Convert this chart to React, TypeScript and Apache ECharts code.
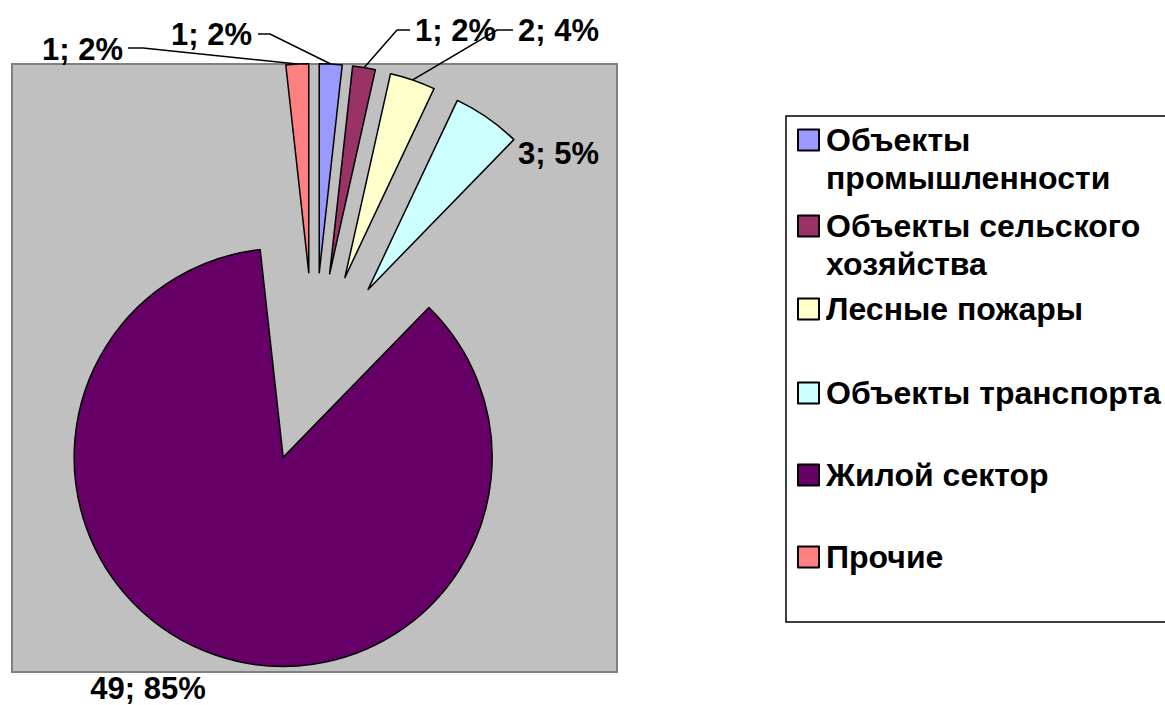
import React, { useEffect, useRef } from "react";
import * as echarts from "echarts";

const categories = [
  "Объекты промышленности",
  "Объекты сельского хозяйства",
  "Лесные пожары",
  "Объекты транспорта",
  "Жилой сектор",
  "Прочие",
];
const values = [1, 1, 2, 3, 49, 1];
const percents = [2, 2, 4, 5, 85, 2];
const colors = ["#9999FF", "#993366", "#FFFFCC", "#CCFFFF", "#660066", "#FF8080"];
const legendText: Record<string, string> = {
  "Объекты промышленности": "\nОбъекты\nпромышленности",
  "Объекты сельского хозяйства": "\nОбъекты сельского\nхозяйства",
};

// layout constants
const CENTER = [314, 367.5];
const RADIUS = 209;
const EXPLODE = 95;
const labelPos = [
  { x: 252, y: 34, align: "right", line: [[270, 34], [258, 34]] },
  { x: 415, y: 30, align: "left", line: [[397, 30], [410, 30]] },
  { x: 518, y: 30, align: "left", line: [[497, 30], [513, 30]] },
  { x: 518, y: 153, align: "left", line: null },
  { x: 148, y: 688, align: "center", line: null },
  { x: 123, y: 49, align: "right", line: [[143, 48], [128, 48]] },
];
const legendCenters = [140, 226, 309, 393, 475, 557];

export default function App() {
  const ref = useRef<HTMLDivElement>(null);
  useEffect(() => {
    if (!ref.current) return;
    const chart = echarts.init(ref.current, null, { renderer: "svg" });
    const font = "'Liberation Sans', Arial, sans-serif";
    const LH = 38;
    const legends = categories.map((name, i) => {
      const two = !!legendText[name];
      return {
        data: [name],
        left: 797,
        top: two ? legendCenters[i] - 10.5 - (1.5 * LH - 10.5) : legendCenters[i] - LH / 2,
        orient: "vertical",
        padding: 0,
        icon: "rect",
        itemWidth: 21,
        itemHeight: 21,
        selectedMode: false,
        formatter: (n: string) => legendText[n] || n,
        textStyle: {
          fontFamily: font,
          fontWeight: "bold",
          fontSize: 32,
          lineHeight: LH,
          color: "#000",
          padding: [0, 0, 0, 2],
        },
      };
    });
    const baseSeries = {
      type: "pie",
      center: CENTER,
      radius: RADIUS,
      startAngle: 90,
      clockwise: true,
      emphasis: { disabled: true },
    };
    chart.setOption({
      animation: false,
      graphic: [
        {
          type: "rect",
          z: 0,
          shape: { x: 12, y: 64, width: 605, height: 608 },
          style: { fill: "#C0C0C0", stroke: "#808080", lineWidth: 2 },
        },
        {
          type: "rect",
          z: 0,
          shape: { x: 786, y: 116, width: 400, height: 506 },
          style: { fill: "#FFFFFF", stroke: "#000000", lineWidth: 1.5 },
        },
      ],
      legend: legends,
      series: [
        {
          ...baseSeries,
          z: 5,
          selectedMode: "multiple",
          selectedOffset: EXPLODE,
          itemStyle: { borderColor: "#000", borderWidth: 1.5 },
          label: { show: false },
          labelLine: { show: false },
          data: categories.map((name, i) => ({
            name,
            value: values[i],
            selected: true,
            itemStyle: { color: colors[i] },
          })),
        },
        {
          ...baseSeries,
          z: 6,
          silent: true,
          selectedMode: false,
          itemStyle: { color: "rgba(0,0,0,0)", borderWidth: 0 },
          label: {
            show: true,
            position: "outside",
            fontFamily: font,
            fontWeight: "bold",
            fontSize: 31,
            color: "#000",
            formatter: (p: any) => `${values[p.dataIndex]}; ${percents[p.dataIndex]}%`,
          },
          labelLine: { show: true, lineStyle: { color: "#000", width: 1.5 } },
          labelLayout: (p: any) => {
            const lp = labelPos[p.dataIndex];
            const out: any = {
              x: lp.x,
              y: lp.y,
              align: lp.align,
              verticalAlign: "middle",
            };
            if (lp.line && p.labelLinePoints) {
              const a = p.labelLinePoints[0];
              const ux = (a[0] - CENTER[0]) / RADIUS;
              const uy = (a[1] - CENTER[1]) / RADIUS;
              const anchor = [a[0] + ux * EXPLODE, a[1] + uy * EXPLODE];
              out.labelLinePoints = [anchor, lp.line[0], lp.line[1]];
            }
            return out;
          },
          data: categories.map((name, i) => ({
            name,
            value: values[i],
            labelLine: { show: !!labelPos[i].line },
          })),
        },
      ],
    });
    return () => chart.dispose();
  }, []);
  return (
    <div
      ref={ref}
      style={{ position: "fixed", left: 0, top: 0, width: 1165, height: 705, background: "#fff" }}
    />
  );
}
